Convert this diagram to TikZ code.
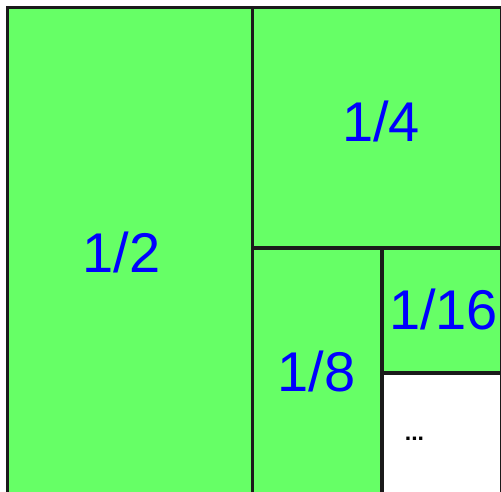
\documentclass[tikz,border=0pt]{standalone}
\usepackage{fontspec}
\setmainfont{Liberation Sans}
\usepackage{xcolor}
\usepackage{tikz}
\usetikzlibrary{positioning}

\definecolor{partgreen}{HTML}{66FF66}
\definecolor{partline}{HTML}{1A1A1A}

\begin{document}
\begin{tikzpicture}[
    x=1pt, y=-1pt,
    part/.style={rectangle, draw=partline, line width=3.2pt,
      fill=partgreen, anchor=north west, inner sep=0pt, outer sep=0pt},
    rest/.style={part, fill=white},
    fraction/.style={font=\fontsize{56}{60}\selectfont, text=blue,
      inner sep=0pt},
    tail/.style={font=\fontsize{23}{26}\selectfont\bfseries, text=black,
      inner sep=0pt},
]
\useasboundingbox (0,0) rectangle (501,491);
\clip (0,0) rectangle (501,491);

% ── Parts of the square ──
\node[part, minimum width=245pt, minimum height=495pt] (half) at (7.5,7.5) {};
\node[part, minimum width=249.5pt, minimum height=240.5pt] (quarter) at (252.5,7.5) {};
\node[part, minimum width=129.5pt, minimum height=252pt] (eighth) at (252.5,248) {};
\node[part, minimum width=120pt, minimum height=125pt] (sixteenth) at (382,248) {};
\node[rest, minimum width=120pt, minimum height=127pt] (remain) at (382,373) {};

% ── Labels ──
\node[fraction] (lhalf) at (121.5,252) {1/2};
\node[fraction] (lquarter) at (381,121) {1/4};
\node[fraction] (leighth) at (316.5,371) {1/8};
\node[fraction] (lsixteenth) at (443.5,309) {1/16};
\node[tail] (lremain) at (414.5,439) {...};

\end{tikzpicture}
\end{document}
